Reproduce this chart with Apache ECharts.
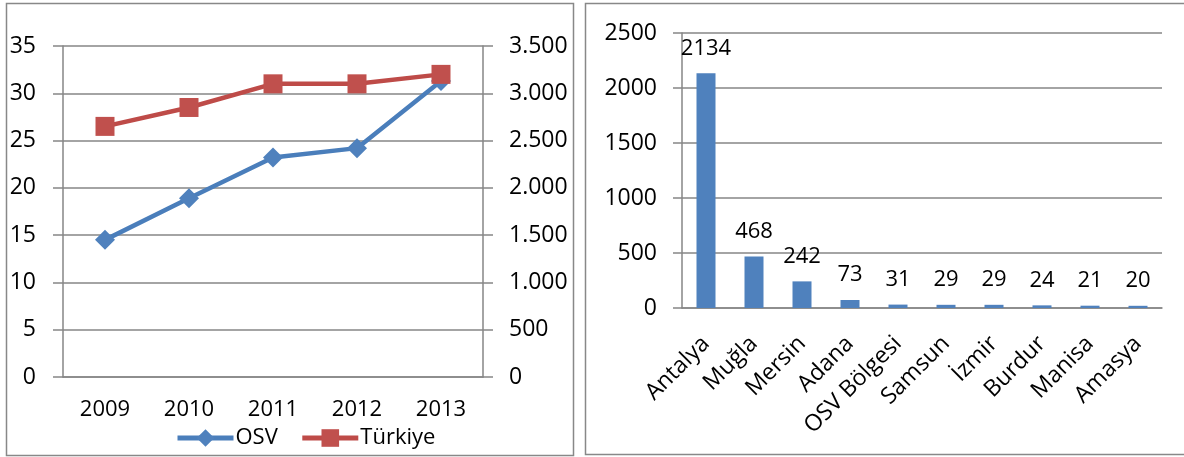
<!DOCTYPE html>
<html>
<head>
<meta charset="utf-8">
<script src="https://cdn.jsdelivr.net/npm/echarts@6/dist/echarts.min.js"></script>
<style>
html,body{margin:0;padding:0;background:#fff;}
#c{width:1184px;height:457px;}
</style>
</head>
<body>
<div id="c"></div>
<script>
// Left chart data
const years = ['2009', '2010', '2011', '2012', '2013'];
const osv = [14.5, 18.9, 23.2, 24.2, 31.3];
const turkiye = [2650, 2850, 3100, 3100, 3200];
// Right chart data
const regions = ['Antalya', 'Muğla', 'Mersin', 'Adana', 'OSV Bölgesi', 'Samsun', 'İzmir', 'Burdur', 'Manisa', 'Amasya'];
const counts = [2134, 468, 242, 73, 31, 29, 29, 24, 21, 20];

const FONT = 'Open Sans';
const GRID = '#868686';
const chart = echarts.init(document.getElementById('c'), null, {renderer: 'canvas'});

function dotFmt(v) {
  return String(v).replace(/\B(?=(\d{3})+(?!\d))/g, '.');
}
function plainFmt(v) { return String(v); }
const txt = {color: '#000', fontFamily: FONT, fontSize: 22};

chart.setOption({
  animation: false,
  backgroundColor: '#fff',
  textStyle: {fontFamily: FONT},
  graphic: [
    {type: 'rect', shape: {x: 6.5, y: 3.5, width: 567, height: 452}, style: {fill: 'none', stroke: '#888', lineWidth: 1.5}},
    {type: 'rect', shape: {x: 585.5, y: 3.5, width: 610, height: 451}, style: {fill: 'none', stroke: '#888', lineWidth: 1.5}}
  ],
  grid: [
    {left: 63, top: 46, width: 420, height: 331},
    {left: 682, top: 33, width: 480, height: 275}
  ],
  legend: {
    data: ['OSV', 'Türkiye'],
    left: 170, top: 422,
    itemWidth: 56, itemHeight: 22, itemGap: 22,
    lineStyle: {width: 5},
    textStyle: Object.assign({}, txt, {padding: [0, 0, 0, -3]})
  },
  xAxis: [
    {
      type: 'category', gridIndex: 0, data: years, boundaryGap: true,
      axisLine: {lineStyle: {color: GRID, width: 1.5}},
      axisTick: {length: 8, lineStyle: {color: GRID, width: 1.5}},
      axisLabel: Object.assign({}, txt, {margin: 22})
    },
    {
      type: 'category', gridIndex: 1, data: regions, boundaryGap: true,
      axisLine: {lineStyle: {color: GRID, width: 1.5}},
      axisTick: {length: 7, lineStyle: {color: GRID, width: 1.5}},
      axisLabel: Object.assign({}, txt, {fontSize: 23, rotate: 45, margin: 32, interval: 0})
    }
  ],
  yAxis: [
    {
      type: 'value', gridIndex: 0, min: 0, max: 35, interval: 5, position: 'left',
      axisLine: {show: true, lineStyle: {color: GRID, width: 1.5}},
      axisTick: {show: true, length: 10, lineStyle: {color: GRID, width: 1.5}},
      splitLine: {lineStyle: {color: GRID, width: 1.5}},
      axisLabel: Object.assign({}, txt, {margin: 27, fontSize: 23})
    },
    {
      type: 'value', gridIndex: 0, min: 0, max: 3500, interval: 500, position: 'right',
      axisLine: {show: true, lineStyle: {color: GRID, width: 1.5}},
      axisTick: {show: true, length: 10, lineStyle: {color: GRID, width: 1.5}},
      splitLine: {show: false},
      axisLabel: Object.assign({}, txt, {margin: 26, fontSize: 23, formatter: dotFmt})
    },
    {
      type: 'value', gridIndex: 1, min: 0, max: 2500, interval: 500,
      axisLine: {show: true, lineStyle: {color: GRID, width: 1.5}},
      axisTick: {show: true, length: 9, lineStyle: {color: GRID, width: 1.5}},
      splitLine: {lineStyle: {color: GRID, width: 1.5}},
      axisLabel: Object.assign({}, txt, {margin: 25, fontSize: 23, formatter: plainFmt})
    }
  ],
  series: [
    {
      name: 'OSV', type: 'line', xAxisIndex: 0, yAxisIndex: 0, data: osv,
      symbol: 'diamond', symbolSize: 20,
      lineStyle: {color: '#4A7EBB', width: 4.5},
      itemStyle: {color: '#4F81BD'}
    },
    {
      name: 'Türkiye', type: 'line', xAxisIndex: 0, yAxisIndex: 1, data: turkiye,
      symbol: 'rect', symbolSize: 19,
      lineStyle: {color: '#BE4B48', width: 4.5},
      itemStyle: {color: '#C0504D'}
    },
    {
      name: 'Sayı', type: 'bar', xAxisIndex: 1, yAxisIndex: 2, data: counts,
      barWidth: 19,
      itemStyle: {color: '#4F81BD'},
      label: Object.assign({show: true, position: 'top', distance: 14}, txt)
    }
  ]
});
</script>
</body>
</html>
